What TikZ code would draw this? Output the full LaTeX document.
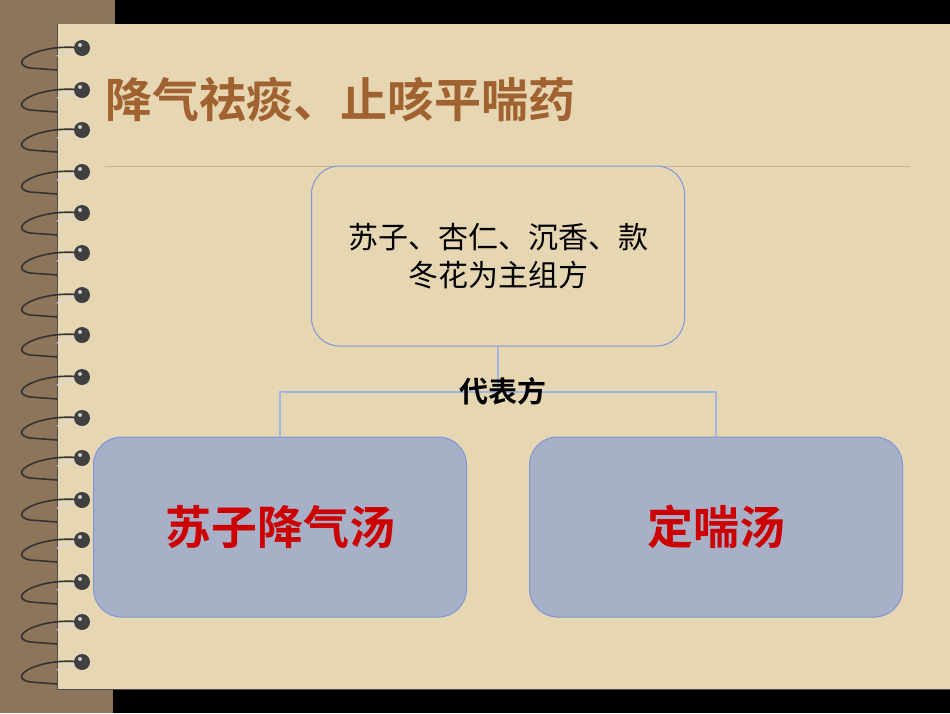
\documentclass[tikz,border=0pt]{standalone}
\usepackage{fontspec}
\newfontfamily\cjk{Noto Sans CJK SC}
\newfontfamily\cjkb{Noto Sans CJK SC Bold}
\begin{document}
\begin{tikzpicture}[x=1pt,y=-1pt,
  topbox/.style={draw=bord, line width=1pt, fill=paper, rounded corners=28pt, minimum width=373pt, minimum height=180pt, align=center, font=\cjk\fontsize{30}{38}\selectfont},
  subbox/.style={draw=bord, line width=1pt, fill=boxblue, rounded corners=28pt, minimum width=373pt, minimum height=180pt, align=center, text=red!80!black, font=\cjkb\fontsize{46}{50}\selectfont},
  conn/.style={draw=bord!70, line width=2.4pt}]
\definecolor{paper}{RGB}{230,214,178}
\definecolor{brownbg}{RGB}{141,117,92}
\definecolor{boxblue}{RGB}{168,176,200}
\definecolor{titlec}{RGB}{160,98,48}
\definecolor{bord}{RGB}{125,150,215}
\useasboundingbox (0,0) rectangle (950,713);
\fill[black] (0,0) rectangle (950,713);
\fill[brownbg] (0,0) rectangle (57,713);
\fill[brownbg] (0,0) rectangle (115,24);
\fill[brownbg] (0,689) rectangle (113,713);
\fill[paper] (57,24) rectangle (950,689);
\draw[black!70,line width=1pt] (57,24) -- (57,689) -- (950,689);
\foreach \y in {48,90,130,172,213,253,295,335,377,418,458,500,540,582,622,662}{
  \draw[gray!40!black,line width=1.6pt] (82,\y) .. controls (40,\y-5) and (5,\y+15) .. (30,\y+20) -- (57,\y+22);
  \draw[white!70!gray,line width=1.2pt] (80,\y) -- (57,\y+8);
  \fill[black!75] (82,\y) circle (8);
  \fill[white!60!gray] (80,\y-3) circle (2);
}
\node[anchor=west,text=titlec,font=\cjkb\fontsize{47}{52}\selectfont,inner sep=0pt] (title) at (105,100) {降气祛痰、止咳平喘药};
\draw[titlec!50,line width=0.6pt] (105,166) -- (910,166);
\node[topbox] (top) at (498,256) {苏子、杏仁、沉香、款\\冬花为主组方};
\node[subbox] (l) at (280,527) {苏子降气汤};
\node[subbox] (r) at (716,527) {定喘汤};
\coordinate (j) at (498,392);
\draw[conn] (top.south) -- (j);
\draw[conn] (l.north) |- (j) -| (r.north);
\node[font=\cjkb\fontsize{29}{32}\selectfont] (lab) at (503,391) {代表方};
\end{tikzpicture}
\end{document}
